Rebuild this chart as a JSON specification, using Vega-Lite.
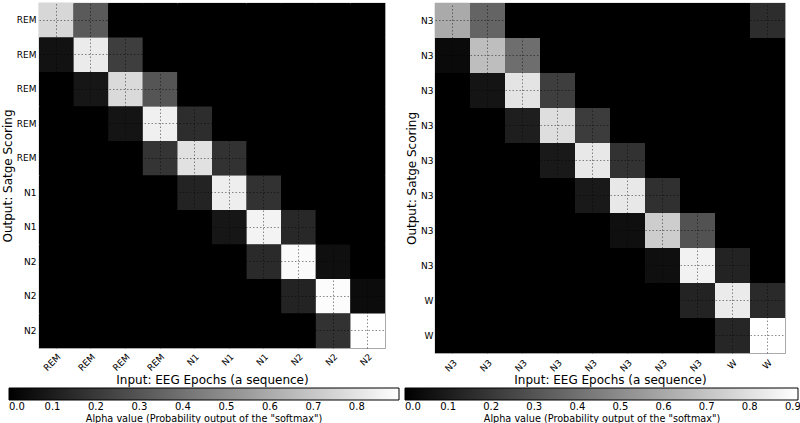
{
  "$schema": "https://vega.github.io/schema/vega-lite/v6.json",
  "padding": {"left": 0, "top": 2, "right": 0, "bottom": 0},
  "bounds": "flush",
  "spacing": 50,
  "config": {
    "font": "DejaVu Sans",
    "view": {"stroke": "#aaaaaa", "strokeWidth": 1.2, "fill": "#000000"},
    "axis": {
      "ticks": false,
      "domain": false,
      "labelFontSize": 9,
      "labelColor": "#000000",
      "labelOverlap": false,
      "labelBound": false,
      "titleFontSize": 12,
      "titleFontWeight": "normal",
      "titleColor": "#000000",
      "grid": true,
      "gridColor": "#000000",
      "gridOpacity": 0.45,
      "gridDash": [1.5, 2],
      "gridWidth": 1
    },
    "legend": {
      "orient": "none",
      "direction": "horizontal",
      "gradientThickness": 12,
      "gradientStrokeColor": "#000000",
      "gradientStrokeWidth": 1,
      "labelFontSize": 10,
      "labelColor": "#000000",
      "labelAlign": "center",
      "labelOffset": 3,
      "labelOverlap": false,
      "titleOrient": "bottom",
      "titleAnchor": "middle",
      "titleFontSize": 9.7,
      "titleFontWeight": "normal",
      "titleColor": "#000000",
      "titlePadding": 2,
      "titleLimit": 600
    }
  },
  "resolve": {"scale": {"color": "independent", "x": "independent", "y": "independent"}, "legend": {"color": "independent"}},
  "datasets": {
    "left": [
      {"output": "0 REM", "input": "0 REM", "alpha": 0.756},
      {"output": "0 REM", "input": "1 REM", "alpha": 0.317},
      {"output": "0 REM", "input": "2 REM", "alpha": 0},
      {"output": "0 REM", "input": "3 REM", "alpha": 0},
      {"output": "0 REM", "input": "4 N1", "alpha": 0},
      {"output": "0 REM", "input": "5 N1", "alpha": 0},
      {"output": "0 REM", "input": "6 N1", "alpha": 0},
      {"output": "0 REM", "input": "7 N2", "alpha": 0},
      {"output": "0 REM", "input": "8 N2", "alpha": 0},
      {"output": "0 REM", "input": "9 N2", "alpha": 0},
      {"output": "1 REM", "input": "0 REM", "alpha": 0.063},
      {"output": "1 REM", "input": "1 REM", "alpha": 0.827},
      {"output": "1 REM", "input": "2 REM", "alpha": 0.218},
      {"output": "1 REM", "input": "3 REM", "alpha": 0},
      {"output": "1 REM", "input": "4 N1", "alpha": 0},
      {"output": "1 REM", "input": "5 N1", "alpha": 0},
      {"output": "1 REM", "input": "6 N1", "alpha": 0},
      {"output": "1 REM", "input": "7 N2", "alpha": 0},
      {"output": "1 REM", "input": "8 N2", "alpha": 0},
      {"output": "1 REM", "input": "9 N2", "alpha": 0},
      {"output": "2 REM", "input": "0 REM", "alpha": 0},
      {"output": "2 REM", "input": "1 REM", "alpha": 0.077},
      {"output": "2 REM", "input": "2 REM", "alpha": 0.767},
      {"output": "2 REM", "input": "3 REM", "alpha": 0.299},
      {"output": "2 REM", "input": "4 N1", "alpha": 0},
      {"output": "2 REM", "input": "5 N1", "alpha": 0},
      {"output": "2 REM", "input": "6 N1", "alpha": 0},
      {"output": "2 REM", "input": "7 N2", "alpha": 0},
      {"output": "2 REM", "input": "8 N2", "alpha": 0},
      {"output": "2 REM", "input": "9 N2", "alpha": 0},
      {"output": "3 REM", "input": "0 REM", "alpha": 0},
      {"output": "3 REM", "input": "1 REM", "alpha": 0},
      {"output": "3 REM", "input": "2 REM", "alpha": 0.07},
      {"output": "3 REM", "input": "3 REM", "alpha": 0.844},
      {"output": "3 REM", "input": "4 N1", "alpha": 0.158},
      {"output": "3 REM", "input": "5 N1", "alpha": 0},
      {"output": "3 REM", "input": "6 N1", "alpha": 0},
      {"output": "3 REM", "input": "7 N2", "alpha": 0},
      {"output": "3 REM", "input": "8 N2", "alpha": 0},
      {"output": "3 REM", "input": "9 N2", "alpha": 0},
      {"output": "4 REM", "input": "0 REM", "alpha": 0},
      {"output": "4 REM", "input": "1 REM", "alpha": 0},
      {"output": "4 REM", "input": "2 REM", "alpha": 0},
      {"output": "4 REM", "input": "3 REM", "alpha": 0.183},
      {"output": "4 REM", "input": "4 N1", "alpha": 0.791},
      {"output": "4 REM", "input": "5 N1", "alpha": 0.176},
      {"output": "4 REM", "input": "6 N1", "alpha": 0},
      {"output": "4 REM", "input": "7 N2", "alpha": 0},
      {"output": "4 REM", "input": "8 N2", "alpha": 0},
      {"output": "4 REM", "input": "9 N2", "alpha": 0},
      {"output": "5 N1", "input": "0 REM", "alpha": 0},
      {"output": "5 N1", "input": "1 REM", "alpha": 0},
      {"output": "5 N1", "input": "2 REM", "alpha": 0},
      {"output": "5 N1", "input": "3 REM", "alpha": 0},
      {"output": "5 N1", "input": "4 N1", "alpha": 0.123},
      {"output": "5 N1", "input": "5 N1", "alpha": 0.837},
      {"output": "5 N1", "input": "6 N1", "alpha": 0.176},
      {"output": "5 N1", "input": "7 N2", "alpha": 0},
      {"output": "5 N1", "input": "8 N2", "alpha": 0},
      {"output": "5 N1", "input": "9 N2", "alpha": 0},
      {"output": "6 N1", "input": "0 REM", "alpha": 0},
      {"output": "6 N1", "input": "1 REM", "alpha": 0},
      {"output": "6 N1", "input": "2 REM", "alpha": 0},
      {"output": "6 N1", "input": "3 REM", "alpha": 0},
      {"output": "6 N1", "input": "4 N1", "alpha": 0},
      {"output": "6 N1", "input": "5 N1", "alpha": 0.077},
      {"output": "6 N1", "input": "6 N1", "alpha": 0.855},
      {"output": "6 N1", "input": "7 N2", "alpha": 0.141},
      {"output": "6 N1", "input": "8 N2", "alpha": 0},
      {"output": "6 N1", "input": "9 N2", "alpha": 0},
      {"output": "7 N2", "input": "0 REM", "alpha": 0},
      {"output": "7 N2", "input": "1 REM", "alpha": 0},
      {"output": "7 N2", "input": "2 REM", "alpha": 0},
      {"output": "7 N2", "input": "3 REM", "alpha": 0},
      {"output": "7 N2", "input": "4 N1", "alpha": 0},
      {"output": "7 N2", "input": "5 N1", "alpha": 0},
      {"output": "7 N2", "input": "6 N1", "alpha": 0.148},
      {"output": "7 N2", "input": "7 N2", "alpha": 0.879},
      {"output": "7 N2", "input": "8 N2", "alpha": 0.053},
      {"output": "7 N2", "input": "9 N2", "alpha": 0},
      {"output": "8 N2", "input": "0 REM", "alpha": 0},
      {"output": "8 N2", "input": "1 REM", "alpha": 0},
      {"output": "8 N2", "input": "2 REM", "alpha": 0},
      {"output": "8 N2", "input": "3 REM", "alpha": 0},
      {"output": "8 N2", "input": "4 N1", "alpha": 0},
      {"output": "8 N2", "input": "5 N1", "alpha": 0},
      {"output": "8 N2", "input": "6 N1", "alpha": 0},
      {"output": "8 N2", "input": "7 N2", "alpha": 0.123},
      {"output": "8 N2", "input": "8 N2", "alpha": 0.886},
      {"output": "8 N2", "input": "9 N2", "alpha": 0.042},
      {"output": "9 N2", "input": "0 REM", "alpha": 0},
      {"output": "9 N2", "input": "1 REM", "alpha": 0},
      {"output": "9 N2", "input": "2 REM", "alpha": 0},
      {"output": "9 N2", "input": "3 REM", "alpha": 0},
      {"output": "9 N2", "input": "4 N1", "alpha": 0},
      {"output": "9 N2", "input": "5 N1", "alpha": 0},
      {"output": "9 N2", "input": "6 N1", "alpha": 0},
      {"output": "9 N2", "input": "7 N2", "alpha": 0},
      {"output": "9 N2", "input": "8 N2", "alpha": 0.176},
      {"output": "9 N2", "input": "9 N2", "alpha": 0.897}
    ],
    "right": [
      {"output": "0 N3", "input": "0 N3", "alpha": 0.608},
      {"output": "0 N3", "input": "1 N3", "alpha": 0.358},
      {"output": "0 N3", "input": "2 N3", "alpha": 0},
      {"output": "0 N3", "input": "3 N3", "alpha": 0},
      {"output": "0 N3", "input": "4 N3", "alpha": 0},
      {"output": "0 N3", "input": "5 N3", "alpha": 0},
      {"output": "0 N3", "input": "6 N3", "alpha": 0},
      {"output": "0 N3", "input": "7 N3", "alpha": 0},
      {"output": "0 N3", "input": "8 W", "alpha": 0},
      {"output": "0 N3", "input": "9 W", "alpha": 0.161},
      {"output": "1 N3", "input": "0 N3", "alpha": 0.036},
      {"output": "1 N3", "input": "1 N3", "alpha": 0.68},
      {"output": "1 N3", "input": "2 N3", "alpha": 0.393},
      {"output": "1 N3", "input": "3 N3", "alpha": 0},
      {"output": "1 N3", "input": "4 N3", "alpha": 0},
      {"output": "1 N3", "input": "5 N3", "alpha": 0},
      {"output": "1 N3", "input": "6 N3", "alpha": 0},
      {"output": "1 N3", "input": "7 N3", "alpha": 0},
      {"output": "1 N3", "input": "8 W", "alpha": 0},
      {"output": "1 N3", "input": "9 W", "alpha": 0},
      {"output": "2 N3", "input": "0 N3", "alpha": 0},
      {"output": "2 N3", "input": "1 N3", "alpha": 0.072},
      {"output": "2 N3", "input": "2 N3", "alpha": 0.815},
      {"output": "2 N3", "input": "3 N3", "alpha": 0.222},
      {"output": "2 N3", "input": "4 N3", "alpha": 0},
      {"output": "2 N3", "input": "5 N3", "alpha": 0},
      {"output": "2 N3", "input": "6 N3", "alpha": 0},
      {"output": "2 N3", "input": "7 N3", "alpha": 0},
      {"output": "2 N3", "input": "8 W", "alpha": 0},
      {"output": "2 N3", "input": "9 W", "alpha": 0},
      {"output": "3 N3", "input": "0 N3", "alpha": 0},
      {"output": "3 N3", "input": "1 N3", "alpha": 0},
      {"output": "3 N3", "input": "2 N3", "alpha": 0.107},
      {"output": "3 N3", "input": "3 N3", "alpha": 0.794},
      {"output": "3 N3", "input": "4 N3", "alpha": 0.215},
      {"output": "3 N3", "input": "5 N3", "alpha": 0},
      {"output": "3 N3", "input": "6 N3", "alpha": 0},
      {"output": "3 N3", "input": "7 N3", "alpha": 0},
      {"output": "3 N3", "input": "8 W", "alpha": 0},
      {"output": "3 N3", "input": "9 W", "alpha": 0},
      {"output": "4 N3", "input": "0 N3", "alpha": 0},
      {"output": "4 N3", "input": "1 N3", "alpha": 0},
      {"output": "4 N3", "input": "2 N3", "alpha": 0},
      {"output": "4 N3", "input": "3 N3", "alpha": 0.089},
      {"output": "4 N3", "input": "4 N3", "alpha": 0.83},
      {"output": "4 N3", "input": "5 N3", "alpha": 0.179},
      {"output": "4 N3", "input": "6 N3", "alpha": 0},
      {"output": "4 N3", "input": "7 N3", "alpha": 0},
      {"output": "4 N3", "input": "8 W", "alpha": 0},
      {"output": "4 N3", "input": "9 W", "alpha": 0},
      {"output": "5 N3", "input": "0 N3", "alpha": 0},
      {"output": "5 N3", "input": "1 N3", "alpha": 0},
      {"output": "5 N3", "input": "2 N3", "alpha": 0},
      {"output": "5 N3", "input": "3 N3", "alpha": 0},
      {"output": "5 N3", "input": "4 N3", "alpha": 0.089},
      {"output": "5 N3", "input": "5 N3", "alpha": 0.83},
      {"output": "5 N3", "input": "6 N3", "alpha": 0.172},
      {"output": "5 N3", "input": "7 N3", "alpha": 0},
      {"output": "5 N3", "input": "8 W", "alpha": 0},
      {"output": "5 N3", "input": "9 W", "alpha": 0},
      {"output": "6 N3", "input": "0 N3", "alpha": 0},
      {"output": "6 N3", "input": "1 N3", "alpha": 0},
      {"output": "6 N3", "input": "2 N3", "alpha": 0},
      {"output": "6 N3", "input": "3 N3", "alpha": 0},
      {"output": "6 N3", "input": "4 N3", "alpha": 0},
      {"output": "6 N3", "input": "5 N3", "alpha": 0.054},
      {"output": "6 N3", "input": "6 N3", "alpha": 0.733},
      {"output": "6 N3", "input": "7 N3", "alpha": 0.293},
      {"output": "6 N3", "input": "8 W", "alpha": 0},
      {"output": "6 N3", "input": "9 W", "alpha": 0},
      {"output": "7 N3", "input": "0 N3", "alpha": 0},
      {"output": "7 N3", "input": "1 N3", "alpha": 0},
      {"output": "7 N3", "input": "2 N3", "alpha": 0},
      {"output": "7 N3", "input": "3 N3", "alpha": 0},
      {"output": "7 N3", "input": "4 N3", "alpha": 0},
      {"output": "7 N3", "input": "5 N3", "alpha": 0},
      {"output": "7 N3", "input": "6 N3", "alpha": 0.054},
      {"output": "7 N3", "input": "7 N3", "alpha": 0.866},
      {"output": "7 N3", "input": "8 W", "alpha": 0.125},
      {"output": "7 N3", "input": "9 W", "alpha": 0},
      {"output": "8 W", "input": "0 N3", "alpha": 0},
      {"output": "8 W", "input": "1 N3", "alpha": 0},
      {"output": "8 W", "input": "2 N3", "alpha": 0},
      {"output": "8 W", "input": "3 N3", "alpha": 0},
      {"output": "8 W", "input": "4 N3", "alpha": 0},
      {"output": "8 W", "input": "5 N3", "alpha": 0},
      {"output": "8 W", "input": "6 N3", "alpha": 0},
      {"output": "8 W", "input": "7 N3", "alpha": 0.125},
      {"output": "8 W", "input": "8 W", "alpha": 0.84},
      {"output": "8 W", "input": "9 W", "alpha": 0.15},
      {"output": "9 W", "input": "0 N3", "alpha": 0},
      {"output": "9 W", "input": "1 N3", "alpha": 0},
      {"output": "9 W", "input": "2 N3", "alpha": 0},
      {"output": "9 W", "input": "3 N3", "alpha": 0},
      {"output": "9 W", "input": "4 N3", "alpha": 0},
      {"output": "9 W", "input": "5 N3", "alpha": 0},
      {"output": "9 W", "input": "6 N3", "alpha": 0},
      {"output": "9 W", "input": "7 N3", "alpha": 0},
      {"output": "9 W", "input": "8 W", "alpha": 0.136},
      {"output": "9 W", "input": "9 W", "alpha": 0.912}
    ]
  },
  "hconcat": [
    {
      "data": {"name": "left"},
      "width": 346,
      "height": 345,
      "mark": {"type": "rect"},
      "encoding": {
        "x": {
          "field": "input",
          "type": "ordinal",
          "axis": {
            "title": "Input: EEG Epochs (a sequence)",
            "labelExpr": "slice(datum.label, 2)",
            "labelAngle": -45,
            "labelPadding": 4,
            "titleY": 31,
            "titleBaseline": "middle",
            "bandPosition": 0.5,
            "zindex": 1,
            "encode": {"labels": {"update": {"angle": {"value": -45}, "align": {"value": "center"}, "baseline": {"value": "middle"}}}}
          }
        },
        "y": {
          "field": "output",
          "type": "ordinal",
          "axis": {
            "title": "Output: Satge Scoring",
            "labelExpr": "slice(datum.label, 2)",
            "labelPadding": 3,
            "titlePadding": 2,
            "bandPosition": 0.5,
            "zindex": 1
          }
        },
        "color": {
          "field": "alpha",
          "type": "quantitative",
          "scale": {"domain": [0, 0.897], "range": ["#000000", "#ffffff"], "interpolate": "rgb"},
          "legend": {
            "legendX": -30,
            "legendY": 385,
            "gradientLength": 390,
            "values": [0, 0.1, 0.2, 0.3, 0.4, 0.5, 0.6, 0.7, 0.8],
            "format": ".1f",
            "title": "Alpha value (Probability output of the \"softmax\")"
          }
        }
      }
    },
    {
      "data": {"name": "right"},
      "width": 350,
      "height": 350,
      "mark": {"type": "rect"},
      "encoding": {
        "x": {
          "field": "input",
          "type": "ordinal",
          "axis": {
            "title": "Input: EEG Epochs (a sequence)",
            "labelExpr": "slice(datum.label, 2)",
            "labelAngle": -45,
            "labelPadding": 5,
            "titleY": 26,
            "titleBaseline": "middle",
            "bandPosition": 0.5,
            "zindex": 1,
            "encode": {"labels": {"update": {"angle": {"value": -45}, "align": {"value": "center"}, "baseline": {"value": "middle"}}}}
          }
        },
        "y": {
          "field": "output",
          "type": "ordinal",
          "axis": {
            "title": "Output: Satge Scoring",
            "labelExpr": "slice(datum.label, 2)",
            "labelPadding": 2,
            "titlePadding": 2,
            "bandPosition": 0.5,
            "zindex": 1
          }
        },
        "color": {
          "field": "alpha",
          "type": "quantitative",
          "scale": {"domain": [0, 0.912], "range": ["#000000", "#ffffff"], "interpolate": "rgb"},
          "legend": {
            "legendX": -30,
            "legendY": 385,
            "gradientLength": 393,
            "values": [0, 0.1, 0.2, 0.3, 0.4, 0.5, 0.6, 0.7, 0.8, 0.9],
            "format": ".1f",
            "title": "Alpha value (Probability output of the \"softmax\")"
          }
        }
      }
    }
  ]
}
